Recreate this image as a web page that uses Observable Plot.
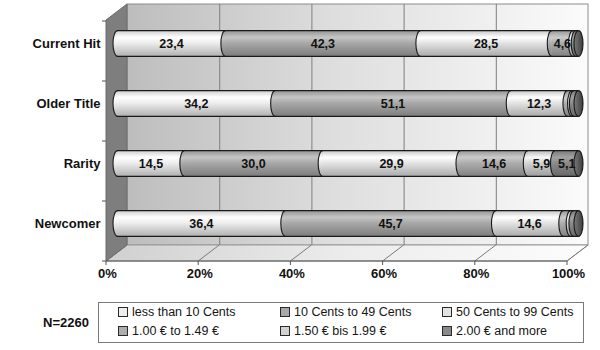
<!DOCTYPE html>
<html><head><meta charset="utf-8">
<script src="https://cdn.jsdelivr.net/npm/d3@7"></script>
<script src="https://cdn.jsdelivr.net/npm/@observablehq/plot@0.6"></script>
<style>
body{margin:0;background:#fff;}
#wrap{position:relative;width:600px;height:350px;font-family:"Liberation Sans",Arial,sans-serif;background:#fff;}
#legend{position:absolute;left:98px;top:302px;width:486px;height:41px;border:1px solid #7a7a7a;box-sizing:border-box;}
.item{position:absolute;font-size:12.5px;color:#151515;display:flex;align-items:center;white-space:nowrap;line-height:14px;}
.sw{width:8px;height:8px;border:1px solid #2a2a2a;margin-right:4px;}
#n{position:absolute;left:43px;top:315px;font-weight:bold;font-size:13px;color:#111;}
</style></head><body><div id="wrap"></div>
<script>
// ---- data ----
const categories = ["Current Hit", "Older Title", "Rarity", "Newcomer"];
const series = ["less than 10 Cents", "10 Cents to 49 Cents", "50 Cents to 99 Cents",
                "1.00 € to 1.49 €", "1.50 € bis 1.99 €", "2.00 € and more"];
const lessThan10 = [23.4, 34.2, 14.5, 36.4];
const cents10to49 = [42.3, 51.1, 30.0, 45.7];
const cents50to99 = [28.5, 12.3, 29.9, 14.6];
const eur100to149 = [4.6, 1.0, 14.6, 1.6];
const eur150to199 = [0.6, 0.4, 5.9, 0.6];
const eur200plus = [0.6, 1.0, 5.1, 1.1];
const xTicks = [0, 20, 40, 60, 80, 100];
const xTickLabels = ["0%", "20%", "40%", "60%", "80%", "100%"];
const sampleNote = "N=2260";

// ---- styles ----
const seriesColors = ["#ededed", "#a8a8a8", "#e3e3e3", "#adadad", "#d2d2d2", "#8a8a8a"];
const seriesValues = [lessThan10, cents10to49, cents50to99, eur100to149, eur150to199, eur200plus];
const rows = categories.flatMap((c, i) => series.map((s, j) => ({cat: c, series: s, value: seriesValues[j][i]})));
const totals = categories.map((c, i) => ({cat: c, total: d3.sum(seriesValues, v => v[i])}));
const fmt = v => v.toFixed(1).replace(".", ",");

const BACK = {dx: 10, dy: -8}, FRONT = {dx: -11, dy: 8};
const HW = 4.5, HH = 12.9, K = 0.5523;

const halfFill = {draw(ctx) {
  ctx.moveTo(0, -HH);
  ctx.bezierCurveTo(-K * HW, -HH, -HW, -K * HH, -HW, 0);
  ctx.bezierCurveTo(-HW, K * HH, -K * HW, HH, 0, HH);
  ctx.closePath();
}};
const halfArc = {draw(ctx) {
  ctx.moveTo(0, -HH);
  ctx.bezierCurveTo(-K * HW, -HH, -HW, -K * HH, -HW, 0);
  ctx.bezierCurveTo(-HW, K * HH, -K * HW, HH, 0, HH);
}};
const fullEllipse = {draw(ctx) {
  ctx.moveTo(0, -HH);
  ctx.bezierCurveTo(-K * HW, -HH, -HW, -K * HH, -HW, 0);
  ctx.bezierCurveTo(-HW, K * HH, -K * HW, HH, 0, HH);
  ctx.bezierCurveTo(K * HW, HH, HW, K * HH, HW, 0);
  ctx.bezierCurveTo(HW, -K * HH, K * HW, -HH, 0, -HH);
  ctx.closePath();
}};

function scene(index, scales, values, dims) {
  const {width, height, marginLeft, marginRight, marginTop, marginBottom} = dims;
  const x = scales.x, y = scales.y;
  const L = marginLeft, R = width - marginRight, T = marginTop, B = height - marginBottom;
  const g = d3.create("svg:g");
  const defs = g.append("defs");
  seriesColors.forEach((c, i) => {
    const lg = defs.append("linearGradient").attr("id", "g" + i).attr("x1", 0).attr("y1", 0).attr("x2", 0).attr("y2", 1);
    const col = d3.color(c);
    [[0, col.darker(0.45)], [0.28, col.brighter(0.45)], [0.5, col], [1, col.darker(0.8)]]
      .forEach(([o, cc]) => lg.append("stop").attr("offset", o).attr("stop-color", cc.formatHex()));
  });
  const cap = defs.append("linearGradient").attr("id", "cap").attr("x1", 0).attr("y1", 0).attr("x2", 1).attr("y2", 0);
  cap.append("stop").attr("offset", 0).attr("stop-color", "#7a7a7a");
  cap.append("stop").attr("offset", 1).attr("stop-color", "#3c3c3c");
  const wall = defs.append("linearGradient").attr("id", "wall").attr("x1", 0).attr("y1", 0).attr("x2", 1).attr("y2", 0);
  [[0, "#bdbdbd"], [0.45, "#dedede"], [1, "#fbfbfb"]].forEach(([o, c]) => wall.append("stop").attr("offset", o).attr("stop-color", c));
  const floor = defs.append("linearGradient").attr("id", "floor").attr("x1", 0).attr("y1", 0).attr("x2", 1).attr("y2", 0);
  [[0, "#d0d0d0"], [0.5, "#ececec"], [1, "#fdfdfd"]].forEach(([o, c]) => floor.append("stop").attr("offset", o).attr("stop-color", c));

  // back wall
  g.append("rect").attr("x", L + BACK.dx).attr("y", T + BACK.dy).attr("width", R - L).attr("height", B - T)
    .attr("fill", "url(#wall)").attr("stroke", "#8c8c8c");
  // floor
  const P = a => a.map(p => p.join(",")).join(" ");
  g.append("polygon").attr("points", P([[L + BACK.dx, B + BACK.dy], [R + BACK.dx, B + BACK.dy], [R + FRONT.dx, B + FRONT.dy], [L + FRONT.dx, B + FRONT.dy]]))
    .attr("fill", "url(#floor)").attr("stroke", "#9a9a9a");
  // floor grid diagonals
  xTicks.forEach(t => {
    g.append("line").attr("x1", x(t) + BACK.dx).attr("y1", B + BACK.dy).attr("x2", x(t) + FRONT.dx).attr("y2", B + FRONT.dy)
      .attr("stroke", "#7a7a7a");
  });
  // left wall
  g.append("polygon").attr("points", P([[L + FRONT.dx, T + FRONT.dy], [L + BACK.dx, T + BACK.dy], [L + BACK.dx, B + BACK.dy], [L + FRONT.dx, B + FRONT.dy]]))
    .attr("fill", "#7e7e7e").attr("stroke", "#6a6a6a");
  // front axis line and ticks
  g.append("line").attr("x1", L + FRONT.dx).attr("x2", R + FRONT.dx).attr("y1", B + FRONT.dy).attr("y2", B + FRONT.dy).attr("stroke", "#555");
  xTicks.forEach(t => {
    g.append("line").attr("x1", x(t) + FRONT.dx).attr("x2", x(t) + FRONT.dx).attr("y1", B + FRONT.dy).attr("y2", B + FRONT.dy + 4).attr("stroke", "#555");
  });
  // y ticks on left wall edge (band boundaries)
  if (y && y.step) {
    const step = y.step(), bw = y.bandwidth();
    const bounds = categories.map(c => y(c) - (step - bw) / 2);
    bounds.push(y(categories[categories.length - 1]) + bw + (step - bw) / 2);
    bounds.forEach(b => {
      g.append("line").attr("x1", L + FRONT.dx - 4).attr("x2", L + FRONT.dx).attr("y1", b + FRONT.dy).attr("y2", b + FRONT.dy).attr("stroke", "#555");
    });
  }
  return g.node();
}

const plot = Plot.plot({
  width: 600,
  height: 290,
  marginLeft: 117,
  marginRight: 22,
  marginTop: 12,
  marginBottom: 37,
  style: {fontFamily: "'Liberation Sans', Arial, sans-serif", background: "transparent", color: "#111"},
  x: {domain: [0, 100], axis: null},
  y: {domain: categories, paddingInner: 0.57, paddingOuter: 0.285, axis: null},
  color: {type: "ordinal", domain: series, range: series.map((_, i) => `url(#g${i})`)},
  marks: [
    scene,
    Plot.ruleX(xTicks.slice(1, -1), {dx: BACK.dx, dy: BACK.dy, stroke: "#7f7f7f"}),
    Plot.barX(rows, Plot.stackX({x: "value", y: "cat", z: "series", fill: "series"})),
    Plot.dot(rows, Plot.stackX1({x: "value", y: "cat", z: "series", fill: "series", stroke: "none", symbol: halfFill, r: 5})),
    Plot.dot(rows, Plot.stackX1({x: "value", y: "cat", z: "series", fill: "none", stroke: "#1a1a1a", strokeWidth: 1.1, symbol: halfArc, r: 5})),
    Plot.ruleY(totals, {y: "cat", x1: 0, x2: "total", dy: -HH, stroke: "#1a1a1a", strokeWidth: 1.1}),
    Plot.ruleY(totals, {y: "cat", x1: 0, x2: "total", dy: HH, stroke: "#1a1a1a", strokeWidth: 1.1}),
    Plot.dot(totals, {x: "total", y: "cat", symbol: fullEllipse, r: 5, fill: "url(#cap)", stroke: "#1a1a1a", strokeWidth: 1.1}),
    Plot.text(rows, Plot.stackX({x: "value", y: "cat", z: "series", text: d => d.value >= 4 ? fmt(d.value) : "",
      fontWeight: "bold", fontSize: 12.5, fill: "#111"})),
    Plot.text(categories, {x: 0, y: d => d, text: d => d, textAnchor: "end", dx: -17, fontWeight: "bold", fontSize: 13, fill: "#111"}),
    Plot.text(xTicks, {x: d => d, text: (d, i) => xTickLabels[i], frameAnchor: "bottom", dx: FRONT.dx + 1, dy: 24, fontWeight: "bold", fontSize: 13, fill: "#111"})
  ]
});

const wrap = document.getElementById("wrap");
wrap.appendChild(plot);

// legend
const legend = document.createElement("div");
legend.id = "legend";
const colX = [19, 181, 343], rowY = [2, 21];
series.forEach((s, i) => {
  const it = document.createElement("div");
  it.className = "item";
  it.style.left = colX[i % 3] + "px";
  it.style.top = rowY[Math.floor(i / 3)] + "px";
  const sw = document.createElement("span");
  sw.className = "sw";
  sw.style.background = seriesColors[i];
  it.appendChild(sw);
  it.appendChild(document.createTextNode(s));
  legend.appendChild(it);
});
wrap.appendChild(legend);
const n = document.createElement("div");
n.id = "n";
n.textContent = sampleNote;
wrap.appendChild(n);
</script>
</body></html>
